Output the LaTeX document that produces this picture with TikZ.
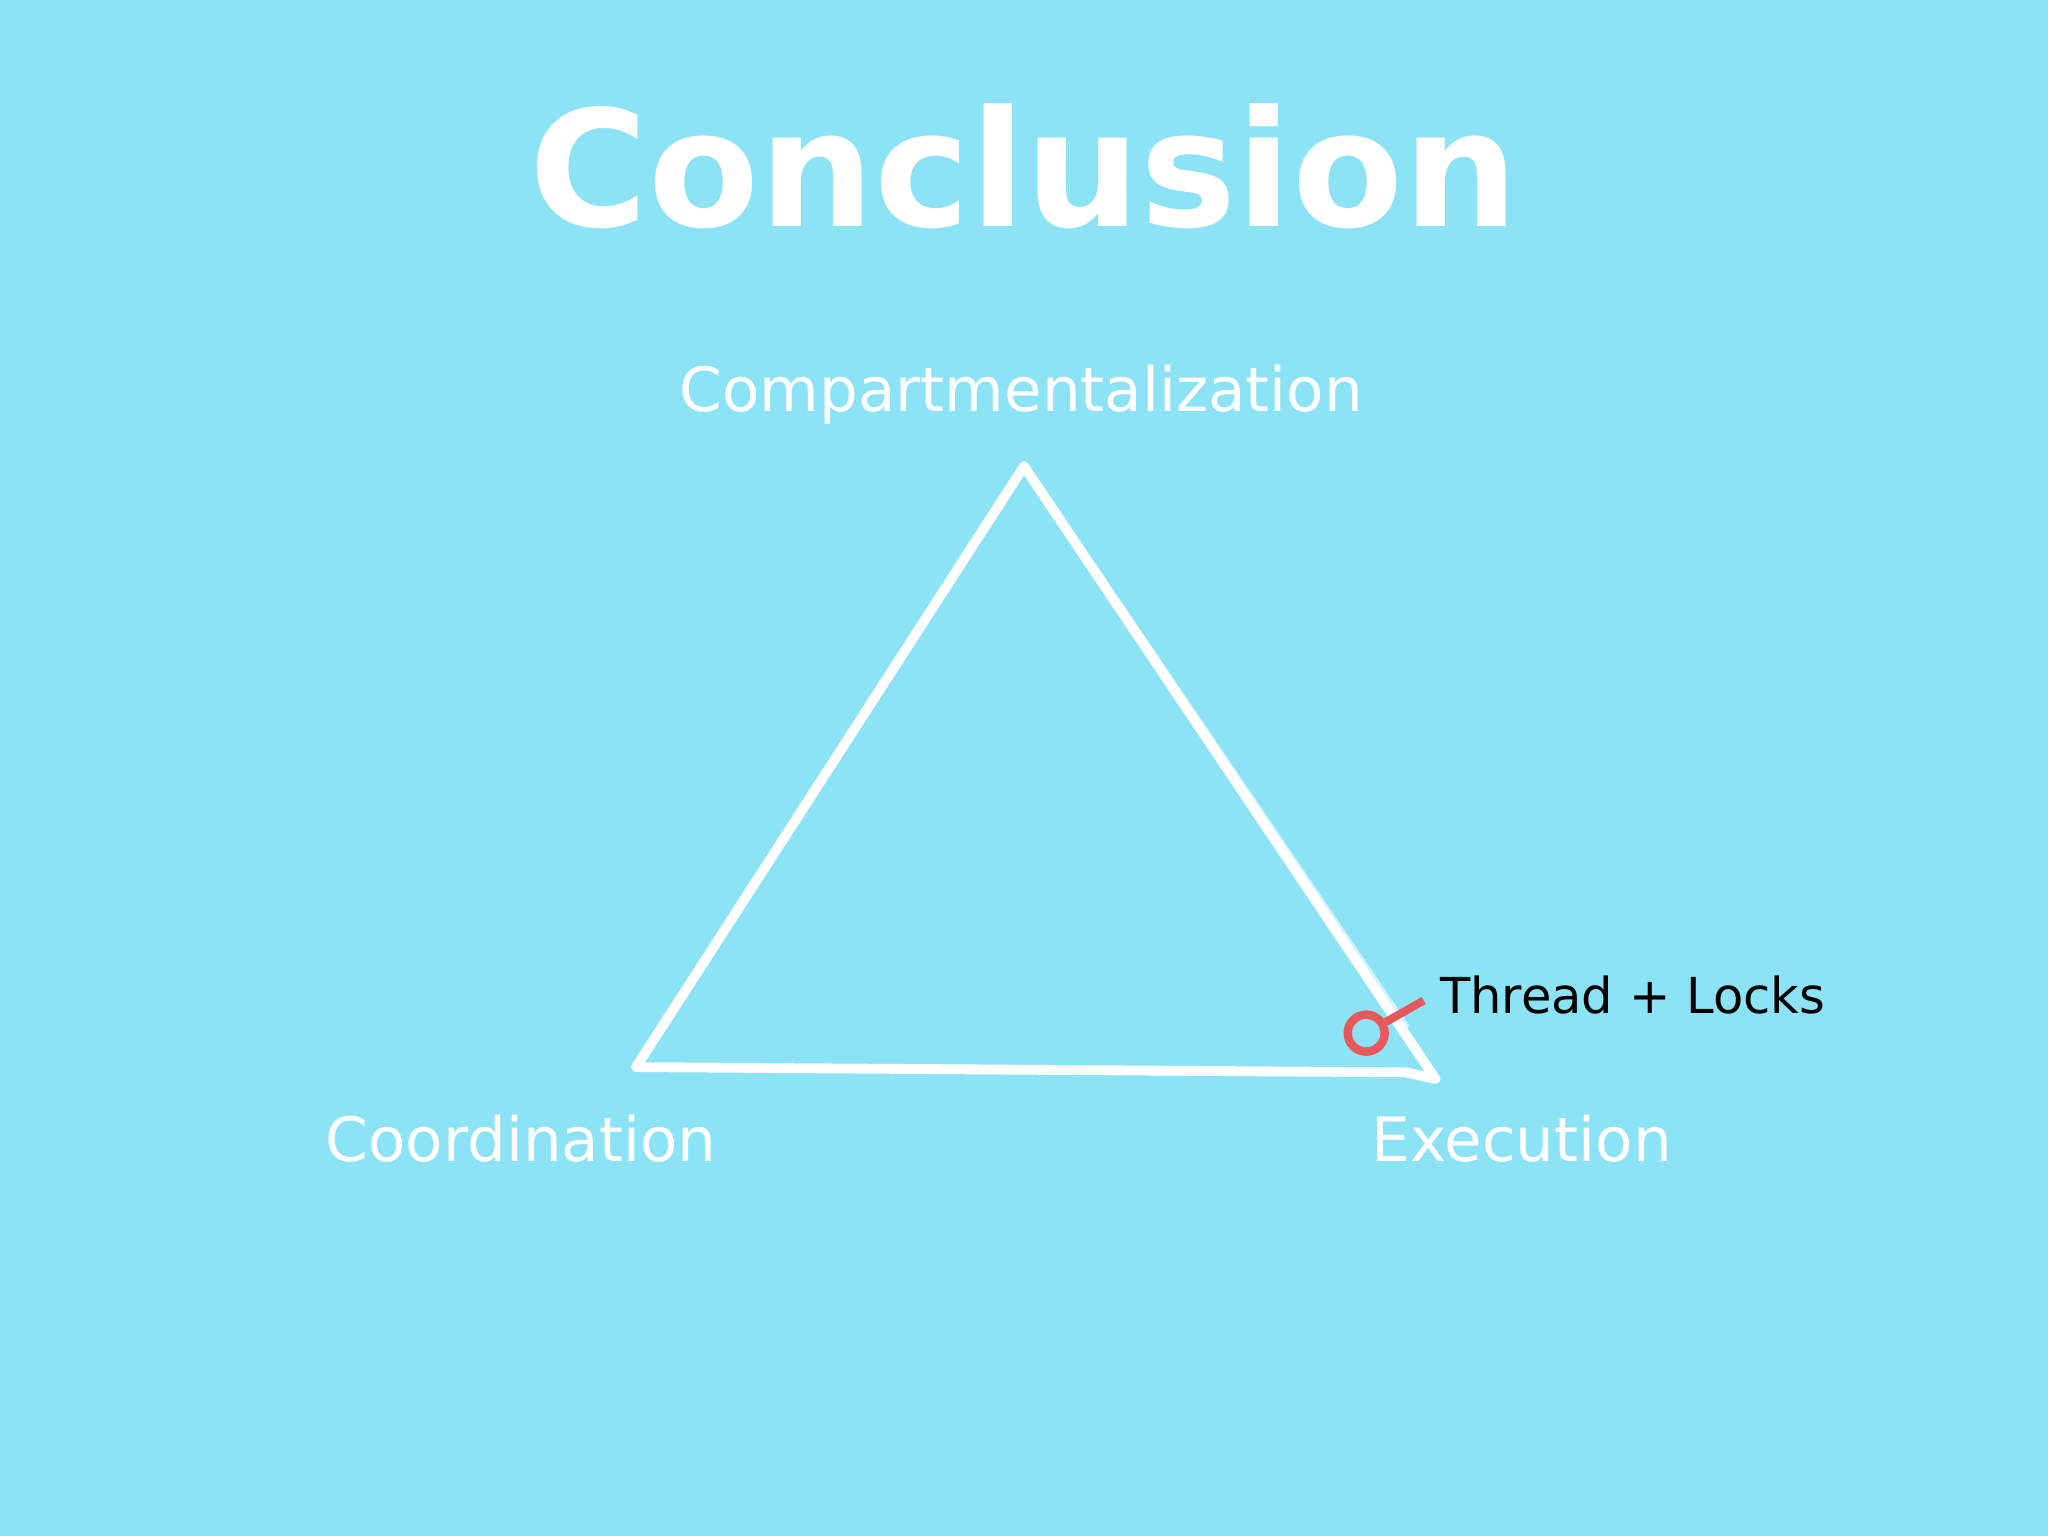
\documentclass[tikz,border=0pt]{standalone}
\usepackage{fontspec}
\setmainfont{DejaVu Sans}
\definecolor{bg}{HTML}{8CE3F5}
\definecolor{lockred}{HTML}{E8575A}
\begin{document}
\begin{tikzpicture}[x=0.013061cm,y=-0.013061cm,
  lbl/.style={text=white,font=\fontsize{17.4}{20}\selectfont,inner sep=0},
  edge/.style={draw=white,line width=2.8pt,line join=round}]
\fill[bg] (0,0) rectangle (1568,1176);
\node[text=white,font=\fontsize{46}{52}\bfseries\selectfont,inner sep=0] (title) at (784,127) {Conclusion};
\node[lbl] (comp) at (782,302) {Compartmentalization};
\node[lbl] (coord) at (399,872) {Coordination};
\node[lbl] (exec) at (1165,872) {Execution};
\coordinate (A) at (784,357);
\coordinate (L) at (487,817);
\coordinate (R) at (1099,826);
\coordinate (B) at (1076,821);
\draw[edge] (A) -- (R) -- (B) -- (L) -- cycle;
\draw[white,line width=1pt,opacity=.6] (781,364) -- (492,810);
\draw[white,line width=1pt,opacity=.6] (789,361) -- (1078,786);
\node[draw=lockred,line width=2.4pt,circle,minimum size=10.5pt,inner sep=0] (lock) at (1046,791) {};
\coordinate (tip) at (1090,766);
\draw[lockred,line width=2.3pt] (lock) -- (tip);
\node[anchor=west,font=\fontsize{14.1}{17}\selectfont,inner sep=0] (tl) at (1102,762) {Thread + Locks};
\end{tikzpicture}
\end{document}
